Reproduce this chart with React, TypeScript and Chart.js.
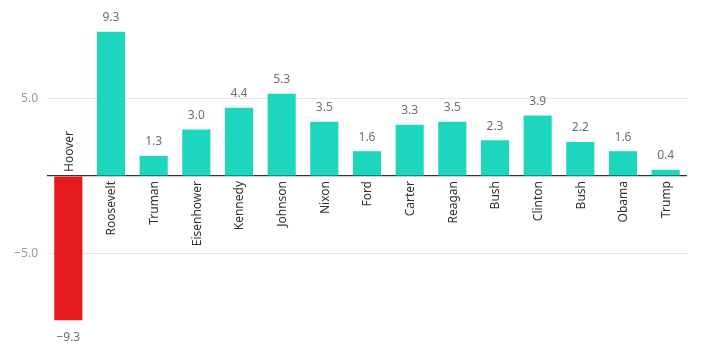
import React, { useEffect, useRef } from "react";
import { Chart, registerables } from "chart.js";

Chart.register(...registerables);

const presidents = ["Hoover", "Roosevelt", "Truman", "Eisenhower", "Kennedy", "Johnson", "Nixon", "Ford", "Carter", "Reagan", "Bush", "Clinton", "Bush", "Obama", "Trump"];
const growth = [-9.3, 9.3, 1.3, 3.0, 4.4, 5.3, 3.5, 1.6, 3.3, 3.5, 2.3, 3.9, 2.2, 1.6, 0.4];
const yTicks = [-5, 0, 5];

const POS = "#1dd6be";
const NEG = "#e41a1c";
const FONT = "'Noto Sans', sans-serif";

const fmt = (v: number) => (v < 0 ? "\u2212" + Math.abs(v).toFixed(1) : v.toFixed(1));

const labelPlugin = {
  id: "barLabels",
  afterDatasetsDraw(chart: any) {
    const ctx = chart.ctx;
    const meta = chart.getDatasetMeta(0);
    const y0 = chart.scales.y.getPixelForValue(0);
    ctx.save();
    meta.data.forEach((bar: any, i: number) => {
      const v = growth[i];
      ctx.font = `12px ${FONT}`;
      ctx.fillStyle = "#6e6e6e";
      ctx.textAlign = "center";
      if (v >= 0) {
        ctx.textBaseline = "bottom";
        ctx.fillText(fmt(v), bar.x, bar.y - 8);
      } else {
        ctx.textBaseline = "top";
        ctx.fillText(fmt(v), bar.x, bar.y + 11);
      }
      ctx.save();
      ctx.font = `12px ${FONT}`;
      ctx.fillStyle = "#333333";
      ctx.textBaseline = "middle";
      if (v >= 0) {
        ctx.translate(bar.x + 1, y0 + 5);
        ctx.rotate(-Math.PI / 2);
        ctx.textAlign = "right";
      } else {
        ctx.translate(bar.x + 1, y0 - 4);
        ctx.rotate(-Math.PI / 2);
        ctx.textAlign = "left";
      }
      ctx.fillText(presidents[i], 0, 0);
      ctx.restore();
    });
    ctx.restore();
  },
};

export default function App() {
  const ref = useRef<HTMLCanvasElement>(null);
  useEffect(() => {
    const chart = new Chart(ref.current!, {
      type: "bar",
      data: {
        labels: presidents,
        datasets: [
          {
            data: growth,
            backgroundColor: growth.map((v) => (v < 0 ? NEG : POS)),
            barPercentage: 0.66,
            categoryPercentage: 1,
          },
        ],
      },
      options: {
        animation: false,
        responsive: false,
        maintainAspectRatio: false,
        layout: { padding: { left: 0, top: 21, right: 22, bottom: 20 } },
        plugins: { legend: { display: false }, tooltip: { enabled: false } },
        scales: {
          x: { display: false },
          y: {
            min: -10,
            max: 10,
            afterBuildTicks: (scale: any) => {
              scale.ticks = yTicks.map((v) => ({ value: v }));
            },
            afterFit: (scale: any) => {
              scale.width = 47;
            },
            border: { display: false },
            grid: {
              drawTicks: false,
              color: (c: any) => (c.tick && c.tick.value === 0 ? "#333333" : "#e6e6e6"),
              lineWidth: (c: any) => (c.tick && c.tick.value === 0 ? 1.2 : 1),
            },
            ticks: {
              padding: 9,
              color: "#999999",
              font: { family: FONT, size: 12 },
              callback: (v: any) => (v === 0 ? "" : fmt(Number(v))),
            },
          },
        },
      },
      plugins: [labelPlugin],
    });
    return () => chart.destroy();
  }, []);
  return (
    <div style={{ position: "fixed", left: 0, top: 0, width: 709, height: 351, background: "#fff" }}>
      <canvas ref={ref} width={709} height={351} style={{ width: 709, height: 351 }} />
    </div>
  );
}
